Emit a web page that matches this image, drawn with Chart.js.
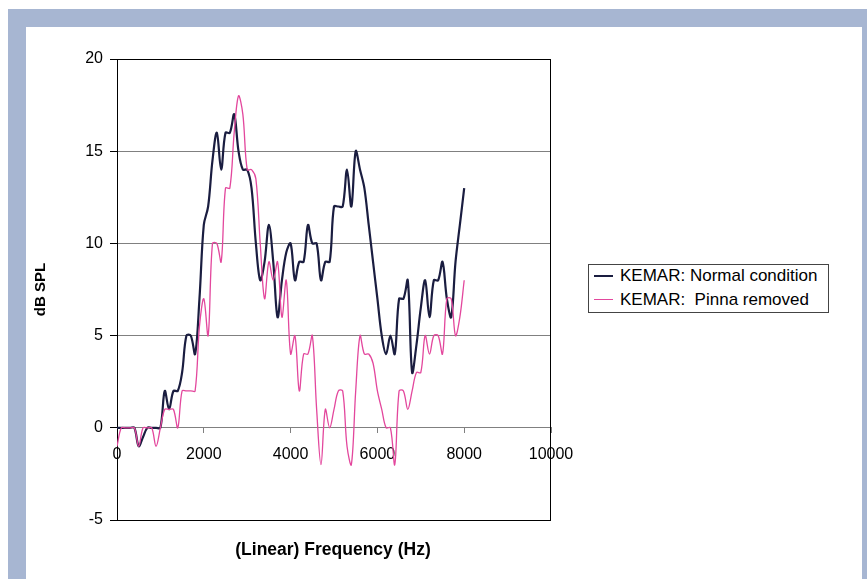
<!DOCTYPE html>
<html>
<head>
<meta charset="utf-8">
<script src="https://cdn.jsdelivr.net/npm/chart.js@4.4.0/dist/chart.umd.min.js"></script>
<style>
  html, body { margin: 0; padding: 0; background: #fff; }
  body { width: 867px; height: 579px; position: relative; overflow: hidden; font-family: 'Liberation Sans', Arial, sans-serif; color: #000; }
  #frame { position: absolute; left: 8px; top: 9px; width: 859px; height: 570px; background: #a7b6d2; }
  #paper { position: absolute; left: 26px; top: 27px; width: 836px; height: 552px; background: #fff; }
  #chart { position: absolute; left: 0; top: 0; }
  #xTitle { position: absolute; left: 0; width: 666px; top: 539px; line-height: 20px; text-align: center; font-weight: bold; font-size: 17.5px; }
  #legend { position: absolute; left: 588px; top: 264px; width: 239px; height: 47px; border: 1px solid #444; background: #fff; }
  .row { position: absolute; left: 0; width: 239px; height: 20px; line-height: 20px; font-size: 17px; white-space: pre; }
  .swatch { position: absolute; left: 5px; top: 9px; width: 19px; height: 0; }
  .label { position: absolute; left: 31px; top: 0; }
</style>
</head>
<body>
<div id="frame"></div>
<div id="paper"></div>
<canvas id="chart" width="867" height="579"></canvas>
<div id="xTitle">(Linear) Frequency (Hz)</div>
<div id="legend">
  <div class="row" style="top:1px"><div class="swatch" style="border-top:2px solid #1a1d40"></div><span class="label">KEMAR: Normal condition</span></div>
  <div class="row" style="top:25px"><div class="swatch" style="border-top:1.5px solid #e3479d"></div><span class="label">KEMAR:  Pinna removed</span></div>
</div>
<script>
// frequency points (Hz)
const freqHz = [
  0, 100, 200, 300, 400, 500, 600, 700, 800, 900,
  1000, 1100, 1200, 1300, 1400, 1500, 1600, 1700, 1800, 1900,
  2000, 2100, 2200, 2300, 2400, 2500, 2600, 2700, 2800, 2900,
  3000, 3100, 3200, 3300, 3400, 3500, 3600, 3700, 3800, 3900,
  4000, 4100, 4200, 4300, 4400, 4500, 4600, 4700, 4800, 4900,
  5000, 5100, 5200, 5300, 5400, 5500, 5600, 5700, 5800, 5900,
  6000, 6100, 6200, 6300, 6400, 6500, 6600, 6700, 6800, 6900,
  7000, 7100, 7200, 7300, 7400, 7500, 7600, 7700, 7800, 7900,
  8000
];

// dB SPL, KEMAR normal condition
const normalCondition = [
  0, 0, 0, 0, 0, -1, -0.5, 0, 0, 0,
  0, 2, 1, 2, 2, 3, 5, 5, 4, 7,
  11, 12, 14.5, 16, 14, 16, 16, 17, 15, 14,
  14, 13, 10, 8, 9, 11, 9, 6, 8, 9.5,
  10, 8, 9, 9, 11, 10, 10, 8, 9, 9,
  12, 12, 12, 14, 12, 15, 14, 13, 11, 9,
  7, 5, 4, 5, 4, 7, 7, 8, 3, 4.5,
  6.5, 8, 6, 8, 8, 9, 7, 6, 9, 11,
  13
];

// dB SPL, KEMAR pinna removed
const pinnaRemoved = [
  -1, 0, 0, 0, 0, -1, 0, 0, 0, -1,
  0, 1, 1, 1, 0, 2, 2, 2, 2, 5.5,
  7, 5, 10, 10, 9, 13, 13, 16, 18, 17,
  14, 14, 13.5, 10, 7, 9, 8, 9, 6, 8,
  4, 5, 2, 4, 4, 5, 1, -2, 1, 0,
  1, 2, 2, -1, -2, 2, 5, 4, 4, 3.5,
  2, 1, 0, 0, -2, 2, 2, 1, 2, 3,
  3, 5, 4, 5, 5, 4, 7, 7, 5, 6,
  8
];

const xTickValues = [0, 2000, 4000, 6000, 8000, 10000];
const yTickValues = [-5, 0, 5, 10, 15, 20];

const toPoints = vals => freqHz.map((f, i) => ({ x: f, y: vals[i] }));

// black frame round the plot area
const plotBox = {
  id: 'plotBox',
  beforeDatasetsDraw(chart) {
    const { ctx, chartArea: a } = chart;
    ctx.save();
    ctx.strokeStyle = '#000';
    ctx.lineWidth = 1;
    ctx.strokeRect(Math.round(a.left) + 0.5, Math.round(a.top) + 0.5,
      Math.round(a.right - a.left) - 1, Math.round(a.bottom - a.top));
    ctx.restore();
  }
};

Chart.defaults.font.family = "'Liberation Sans', Arial, sans-serif";
Chart.defaults.color = '#000';

new Chart(document.getElementById('chart').getContext('2d'), {
  type: 'line',
  data: {
    datasets: [
      {
        label: 'KEMAR: Normal condition',
        data: toPoints(normalCondition),
        borderColor: '#1a1d40',
        borderWidth: 2.2,
        pointRadius: 0,
        tension: 0.35,
        fill: false,
        order: 1
      },
      {
        label: 'KEMAR:  Pinna removed',
        data: toPoints(pinnaRemoved),
        borderColor: '#e3479d',
        borderWidth: 1.3,
        pointRadius: 0,
        tension: 0.35,
        fill: false,
        order: 0
      }
    ]
  },
  options: {
    responsive: false,
    animation: false,
    layout: { padding: { left: 26, top: 59, right: 316, bottom: 59 } },
    plugins: { legend: { display: false }, tooltip: { enabled: false } },
    scales: {
      x: {
        type: 'linear',
        position: { y: 0 },
        min: 0,
        max: 10000,
        afterBuildTicks: s => { s.ticks = xTickValues.map(v => ({ value: v })); },
        grid: { drawOnChartArea: false, tickLength: 5, color: '#808080' },
        border: { color: '#808080' },
        ticks: { font: { size: 16 }, padding: 12, maxRotation: 0, autoSkip: false, callback: v => String(v) }
      },
      y: {
        min: -5,
        max: 20,
        afterBuildTicks: s => { s.ticks = yTickValues.map(v => ({ value: v })); },
        afterFit: s => { s.width = 91; },
        grid: { color: '#808080', tickLength: 7, tickColor: '#000' },
        border: { color: '#000' },
        ticks: { font: { size: 16 }, padding: 7, callback: v => String(v) },
        title: { display: true, text: 'dB SPL', font: { size: 15, weight: 'bold' }, padding: { top: 6, bottom: 0 } }
      }
    }
  },
  plugins: [plotBox]
});
</script>
</body>
</html>
